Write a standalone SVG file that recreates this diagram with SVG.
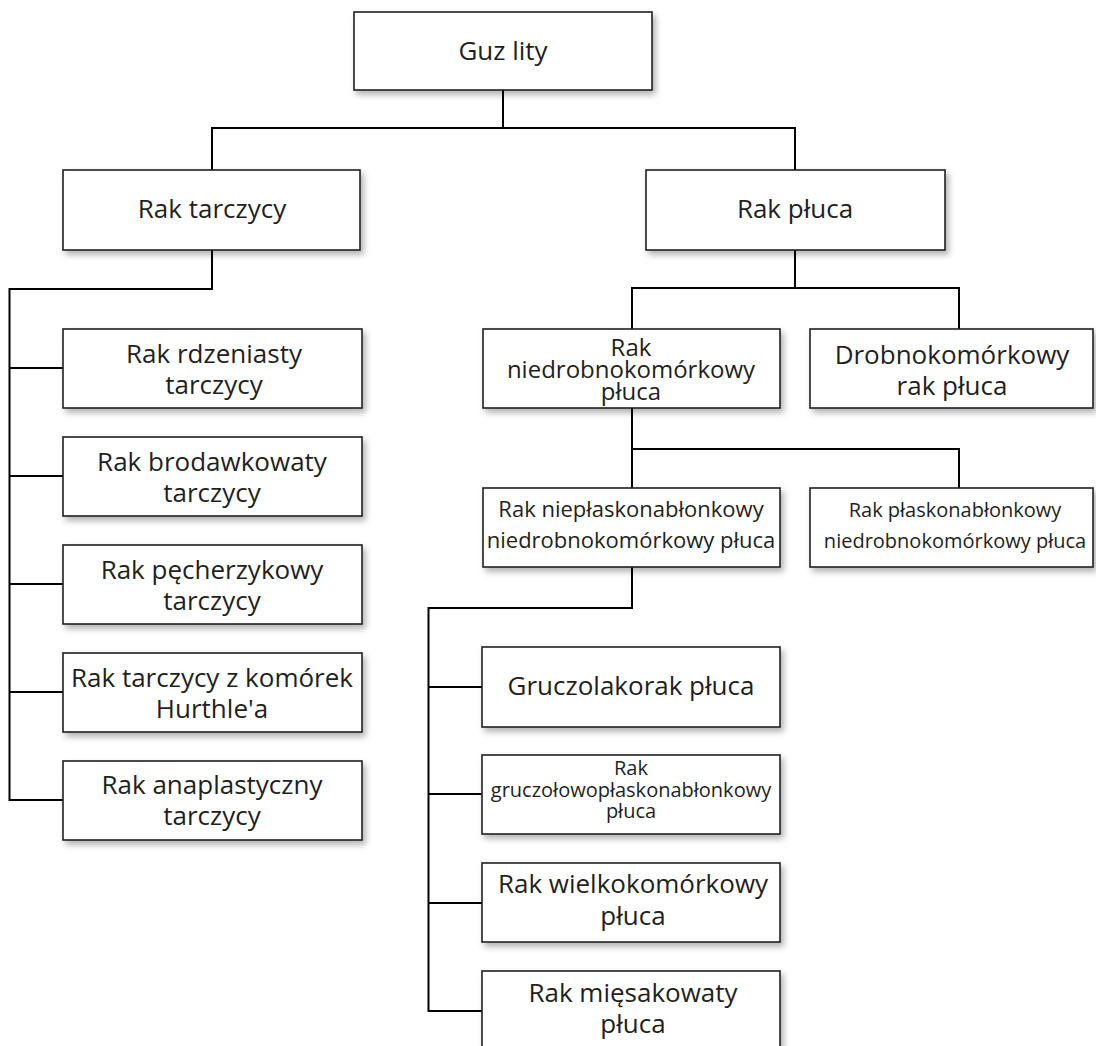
<svg xmlns="http://www.w3.org/2000/svg" width="1096" height="1046" viewBox="0 0 1096 1046">
<defs>
<filter id="sh" x="-10%" y="-20%" width="125%" height="150%">
<feDropShadow dx="3" dy="4" stdDeviation="3" flood-color="#000" flood-opacity="0.3"/>
</filter>
</defs>
<style>
.box{fill:#fff;stroke:#231f20;stroke-width:1.6;filter:url(#sh)}
.t{font-family:"Open Sans","Liberation Sans",sans-serif;fill:#231f20;text-anchor:middle}
.l{font-size:26px}
.m{font-size:24px}
.s{font-size:22px}
.xs{font-size:20px}
.c{fill:none;stroke:#000;stroke-width:2}
</style>
<rect width="1096" height="1046" fill="#fff"/>
<g id="connectors">
<path class="c" d="M503 90V128M212 170V128H795V170"/>
<path class="c" d="M212 250V289H9.5V800H63M9.5 368H63M9.5 476H63M9.5 584H63M9.5 692H63"/>
<path class="c" d="M795 250V288M632 329V288H959V329"/>
<path class="c" d="M632 408V449M632 488V449H959V488"/>
<path class="c" d="M632 567V608H428.5V1011H482M428.5 687H482M428.5 794H482M428.5 903H482"/>
</g>
<g id="n-guz"><rect class="box" x="354" y="12" width="298" height="78"/><text class="t l" x="503" y="60">Guz lity</text></g>
<g id="n-tarczyca"><rect class="box" x="63" y="170" width="297" height="80"/><text class="t l" x="212" y="218">Rak tarczycy</text></g>
<g id="n-pluca"><rect class="box" x="646" y="170" width="299" height="80"/><text class="t l" x="795" y="218">Rak płuca</text></g>
<g id="n-rdzeniasty"><rect class="box" x="63" y="329" width="299" height="79"/><text class="t l" x="214" y="363">Rak rdzeniasty</text><text class="t l" x="214" y="394">tarczycy</text></g>
<g id="n-brodawkowaty"><rect class="box" x="63" y="437" width="299" height="79"/><text class="t l" x="212" y="471">Rak brodawkowaty</text><text class="t l" x="212" y="502">tarczycy</text></g>
<g id="n-pecherzykowy"><rect class="box" x="63" y="545" width="299" height="79"/><text class="t l" x="212" y="579">Rak pęcherzykowy</text><text class="t l" x="212" y="610">tarczycy</text></g>
<g id="n-hurthle"><rect class="box" x="63" y="653" width="299" height="79"/><text class="t l" x="212" y="687">Rak tarczycy z komórek</text><text class="t l" x="212" y="718">Hurthle'a</text></g>
<g id="n-anaplastyczny"><rect class="box" x="63" y="761" width="299" height="79"/><text class="t l" x="212" y="794">Rak anaplastyczny</text><text class="t l" x="212" y="825">tarczycy</text></g>
<g id="n-niedrobno"><rect class="box" x="483" y="329" width="297" height="79"/><text class="t m" x="631" y="356">Rak</text><text class="t m" x="631" y="378">niedrobnokomórkowy</text><text class="t m" x="631" y="400">płuca</text></g>
<g id="n-drobno"><rect class="box" x="810" y="329" width="283" height="79"/><text class="t l" x="952" y="364">Drobnokomórkowy</text><text class="t l" x="952" y="395">rak płuca</text></g>
<g id="n-nieplasko"><rect class="box" x="483" y="488" width="297" height="79"/><text class="t s" x="631" y="517">Rak niepłaskonabłonkowy</text><text class="t s" x="631" y="548">niedrobnokomórkowy płuca</text></g>
<g id="n-plasko"><rect class="box" x="810" y="488" width="283" height="79"/><text class="t xs" x="955" y="517">Rak płaskonabłonkowy</text><text class="t xs" x="955" y="548">niedrobnokomórkowy płuca</text></g>
<g id="n-gruczolakorak"><rect class="box" x="482" y="647" width="298" height="80"/><text class="t l" x="631" y="695">Gruczolakorak płuca</text></g>
<g id="n-gruczolowo"><rect class="box" x="482" y="755" width="298" height="79"/><text class="t xs" x="631" y="775">Rak</text><text class="t xs" x="631" y="797">gruczołowopłaskonabłonkowy</text><text class="t xs" x="631" y="818">płuca</text></g>
<g id="n-wielko"><rect class="box" x="482" y="863" width="298" height="79"/><text class="t l" x="633" y="893">Rak wielkokomórkowy</text><text class="t l" x="633" y="925">płuca</text></g>
<g id="n-miesakowaty"><rect class="box" x="482" y="971" width="298" height="80"/><text class="t l" x="633" y="1002">Rak mięsakowaty</text><text class="t l" x="633" y="1033">płuca</text></g>
</svg>
